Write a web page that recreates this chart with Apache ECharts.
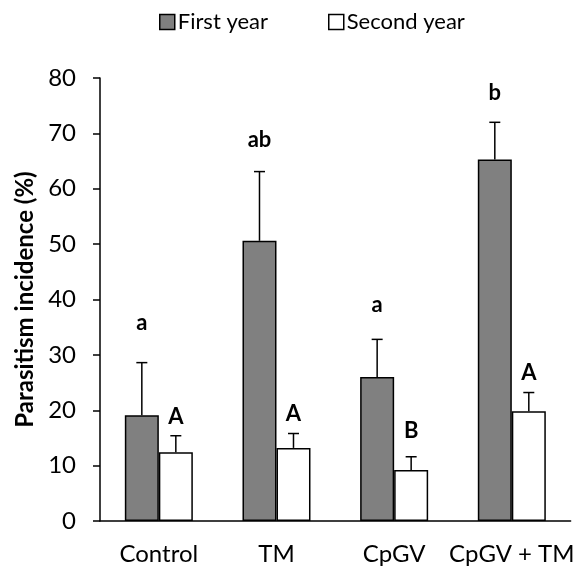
<!DOCTYPE html>
<html><head><meta charset="utf-8">
<script src="https://cdn.jsdelivr.net/npm/echarts@6/dist/echarts.min.js"></script>
<style>html,body{margin:0;padding:0;background:#fff}#c{width:577px;height:567px}</style>
</head><body><div id="c"></div>
<script>
const categories = ['Control', 'TM', 'CpGV', 'CpGV + TM'];
const firstYear = [19.1, 50.6, 26.0, 65.3];
const firstYearErr = [9.5, 12.5, 6.8, 6.7];
const secondYear = [12.4, 13.2, 9.2, 19.8];
const secondYearErr = [3.0, 2.6, 2.4, 3.4];
const firstLetters = ['a', 'ab', 'a', 'b'];
const firstLetterPos = [35.7, 68.8, 39.0, 77.3];
const secondLetters = ['A', 'A', 'B', 'A'];
const secondLetterPos = [18.8, 19.3, 16.3, 26.7];
const yTicks = [0, 10, 20, 30, 40, 50, 60, 70, 80];

const FONT = 'Lato';
const BW = 34;
const chart = echarts.init(document.getElementById('c'));

function errSeries(name, means, errs, letters, letterPos, side) {
  const data = means.map((m, i) => [i, m, errs[i], letters[i], letterPos[i]]);
  return {
    type: 'custom', name: name + ' err', silent: true, z: 5,
    data: data,
    renderItem: function (params, api) {
      const i = api.value(0), m = api.value(1), e = api.value(2);
      const base = api.coord([i, m]);
      const top = api.coord([i, m + e]);
      const lp = api.coord([i, data[params.dataIndex][4]]);
      const x = base[0] + side * BW / 2;
      const cap = 5.5;
      return {
        type: 'group', children: [
          { type: 'line', shape: { x1: x, y1: base[1], x2: x, y2: top[1] }, style: { stroke: '#000', lineWidth: 1.5 } },
          { type: 'line', shape: { x1: x - cap, y1: top[1], x2: x + cap, y2: top[1] }, style: { stroke: '#000', lineWidth: 1.5 } },
          { type: 'text', x: x, y: lp[1], style: { text: data[params.dataIndex][3], fill: '#000', font: 'bold 22px ' + FONT, align: 'center', verticalAlign: 'middle' } }
        ]
      };
    }
  };
}

chart.setOption({
  animation: false,
  backgroundColor: '#fff',
  textStyle: { fontFamily: FONT },
  legend: {
    left: 154, top: 6, itemWidth: 15, itemHeight: 15, itemGap: 60,
    icon: 'rect',
    textStyle: { fontFamily: FONT, fontSize: 22, color: '#000', padding: [0, 0, 0, -2] },
    data: [
      { name: 'First year', itemStyle: { color: '#808080', borderColor: '#000', borderWidth: 1.5 } },
      { name: 'Second year', itemStyle: { color: '#fff', borderColor: '#000', borderWidth: 1.5 } }
    ]
  },
  grid: { left: 100, right: 2, top: 78, bottom: 46, containLabel: false },
  xAxis: {
    type: 'category', data: categories,
    axisLine: { lineStyle: { color: '#000', width: 1.5 } },
    axisTick: { show: false },
    axisLabel: { color: '#000', fontSize: 24, fontFamily: FONT, margin: 21, interval: 0 }
  },
  yAxis: {
    type: 'value', min: yTicks[0], max: yTicks[yTicks.length - 1], interval: 10,
    name: 'Parasitism incidence (%)', nameLocation: 'middle', nameGap: 63,
    nameTextStyle: { color: '#000', fontSize: 24, fontWeight: 'bold', fontFamily: FONT },
    axisLine: { show: true, lineStyle: { color: '#000', width: 1.5 } },
    axisTick: { show: true, length: 7, lineStyle: { color: '#000', width: 1.5 } },
    axisLabel: { color: '#000', fontSize: 24, fontFamily: FONT, margin: 24 },
    splitLine: { show: false }
  },
  series: [
    { name: 'First year', type: 'bar', data: firstYear, barWidth: BW, barGap: '0%',
      itemStyle: { color: '#808080', borderColor: '#000', borderWidth: 1.5 } },
    { name: 'Second year', type: 'bar', data: secondYear, barWidth: BW, barGap: '0%',
      itemStyle: { color: '#fff', borderColor: '#000', borderWidth: 1.5 } },
    errSeries('First year', firstYear, firstYearErr, firstLetters, firstLetterPos, -1),
    errSeries('Second year', secondYear, secondYearErr, secondLetters, secondLetterPos, 1)
  ]
});
</script></body></html>
